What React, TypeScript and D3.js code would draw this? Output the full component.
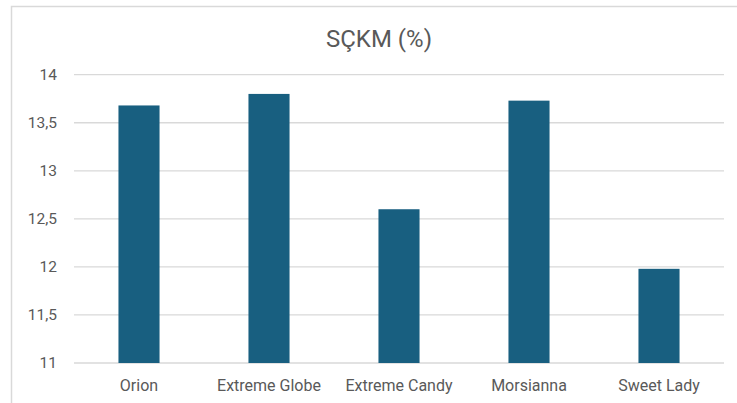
import React from "react";
import * as d3 from "d3";

const categories = ["Orion", "Extreme Globe", "Extreme Candy", "Morsianna", "Sweet Lady"];
const values = [13.68, 13.8, 12.6, 13.73, 11.98];
const yTicks = [11, 11.5, 12, 12.5, 13, 13.5, 14];
const title = "SÇKM (%)";

const W = 737;
const H = 403;
const plot = { left: 74, right: 724, top: 74.7, bottom: 363 };

export default function App() {
  const x = d3.scaleBand<string>().domain(categories).range([plot.left, plot.right]).padding(0);
  const y = d3.scaleLinear().domain([11, 14]).range([plot.bottom, plot.top]);
  const barW = x.bandwidth() * 0.316;
  const fmt = (v: number) => String(v).replace(".", ",");
  const font = "Roboto, 'Liberation Sans', sans-serif";

  return (
    <svg
      width={W}
      height={H}
      style={{ position: "absolute", left: 0, top: 0, background: "#fff" }}
      fontFamily={font}
    >
      <rect x={0} y={0} width={W} height={H} fill="#fff" />
      <path d={`M11.5,${H + 5} V6.5 H${W + 5}`} fill="none" stroke="#D9D9D9" strokeWidth={1.5} />
      <text x={379} y={46.5} textAnchor="middle" fontSize={24} fill="#595959">
        {title}
      </text>
      {yTicks.map((t) => (
        <g key={t}>
          <line x1={plot.left} x2={plot.right} y1={y(t)} y2={y(t)} stroke="#D9D9D9" strokeWidth={1.3} />
          <text x={57} y={y(t)} dy="0.35em" textAnchor="end" fontSize={15.5} fill="#595959">
            {fmt(t)}
          </text>
        </g>
      ))}
      {categories.map((c, i) => {
        const cx = (x(c) as number) + x.bandwidth() / 2;
        return (
          <g key={c}>
            <rect
              x={cx - barW / 2}
              y={y(values[i])}
              width={barW}
              height={y(11) - y(values[i])}
              fill="#185F80"
            />
            <text x={cx} y={390.5} textAnchor="middle" fontSize={16} fill="#595959">
              {c}
            </text>
          </g>
        );
      })}
    </svg>
  );
}
